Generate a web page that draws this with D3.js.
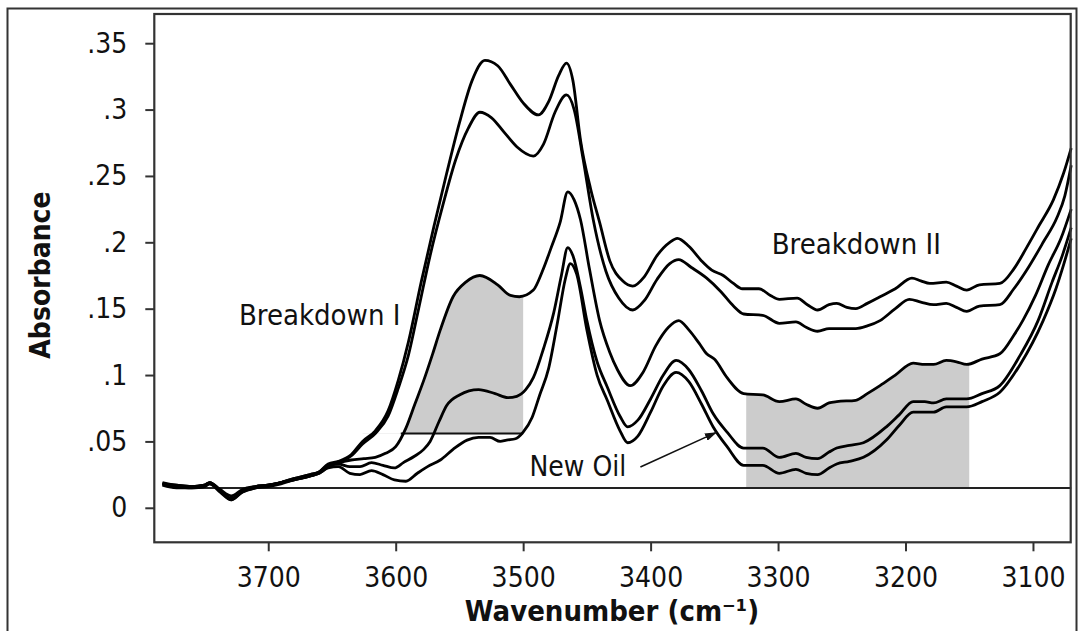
<!DOCTYPE html>
<html>
<head>
<meta charset="utf-8">
<script src="https://cdn.jsdelivr.net/npm/d3@7"></script>
<style>
  body { margin: 0; background: #fff; }
  text { font-family: "DejaVu Sans Condensed", "DejaVu Sans", sans-serif; font-stretch: condensed; fill: #111; }
</style>
</head>
<body>
<svg id="chart"></svg>
<script>
// medidas
var width = 1079;
var height = 631;

// eje x (numero de onda) y eje y (absorbancia)
var xTicks = [3700, 3600, 3500, 3400, 3300, 3200, 3100];
var yTicks = [0, 0.05, 0.1, 0.15, 0.2, 0.25, 0.3, 0.35];
var yLabels = ["0", ".05", ".1", ".15", ".2", ".25", ".3", ".35"];

// espectros [numero de onda, absorbancia]
var curveA = [[3783,0.019],[3772,0.017],[3760,0.016],[3750,0.017],[3746,0.019],[3738,0.014],[3729,0.009],[3720,0.014],[3710,0.016],[3700,0.017],[3690,0.019],[3680,0.022],[3667,0.025],[3660,0.027],[3653,0.033],[3645,0.035],
  [3635,0.040],[3626,0.050],[3616,0.058],[3606,0.073],[3598,0.096],[3590,0.125],[3580,0.170],[3570,0.212],[3560,0.252],[3550,0.290],[3540,0.322],[3530,0.337],[3520,0.333],[3510,0.319],[3500,0.305],[3488,0.296],[3480,0.306],[3472,0.326],[3466,0.335],[3461,0.322],[3455,0.277],[3447,0.240],[3440,0.215],[3432,0.186],[3422,0.171],[3414,0.167],[3405,0.174],[3395,0.190],[3385,0.200],[3379,0.203],[3370,0.197],[3360,0.186],[3352,0.179],[3343,0.175],[3335,0.169],[3328,0.165],[3315,0.165],[3306,0.160],[3299,0.157],[3285,0.158],[3277,0.153],[3269,0.149],[3260,0.153],[3254,0.154],[3246,0.151],[3239,0.150],[3230,0.154],[3220,0.159],[3208,0.165],[3195,0.173],[3188,0.171],[3181,0.169],[3168,0.170],[3160,0.167],[3152,0.164],[3142,0.168],[3126,0.169],[3115,0.180],[3105,0.196],[3095,0.213],[3084,0.232],[3076,0.252],[3070,0.271]];
var curveB = [[3783,0.018],[3772,0.016],[3760,0.016],[3750,0.017],[3746,0.019],[3738,0.013],[3729,0.007],[3720,0.013],[3710,0.016],[3700,0.017],[3690,0.019],[3680,0.022],[3667,0.025],[3660,0.027],[3653,0.032],[3645,0.034],
  [3635,0.039],[3626,0.048],[3616,0.056],[3606,0.069],[3598,0.090],[3590,0.115],[3582,0.150],[3573,0.190],[3563,0.228],[3553,0.262],[3543,0.286],[3534,0.298],[3525,0.294],[3515,0.283],[3505,0.272],[3492,0.265],[3484,0.274],[3475,0.298],[3466,0.311],[3460,0.300],[3453,0.263],[3445,0.217],[3435,0.178],[3425,0.158],[3414,0.149],[3405,0.156],[3395,0.172],[3385,0.184],[3378,0.187],[3368,0.181],[3356,0.173],[3345,0.163],[3335,0.152],[3327,0.146],[3312,0.145],[3299,0.139],[3286,0.140],[3278,0.136],[3269,0.133],[3260,0.135],[3254,0.135],[3239,0.135],[3230,0.137],[3220,0.141],[3208,0.150],[3197,0.157],[3188,0.155],[3178,0.153],[3168,0.154],[3160,0.151],[3152,0.148],[3142,0.152],[3126,0.153],[3115,0.165],[3103,0.182],[3092,0.200],[3081,0.219],[3075,0.235],[3070,0.258]];
var curveC = [[3783,0.018],[3772,0.016],[3760,0.015],[3750,0.016],[3746,0.018],[3738,0.013],[3729,0.007],[3720,0.012],[3710,0.015],[3700,0.017],[3690,0.019],[3680,0.021],[3667,0.024],[3660,0.027],[3653,0.032],[3645,0.034],
  [3635,0.036],[3625,0.037],[3616,0.038],[3608,0.041],[3600,0.046],[3592,0.060],[3585,0.078],[3578,0.096],[3571,0.116],[3565,0.134],[3555,0.159],[3545,0.170],[3534,0.175],[3520,0.168],[3510,0.160],[3503,0.159],[3492,0.164],[3485,0.178],[3478,0.196],[3471,0.215],[3465,0.238],[3460,0.232],[3455,0.217],[3448,0.180],[3440,0.141],[3432,0.117],[3426,0.104],[3416,0.092],[3406,0.102],[3396,0.122],[3386,0.136],[3378,0.141],[3370,0.134],[3362,0.124],[3356,0.116],[3350,0.112],[3340,0.098],[3327,0.086],[3312,0.085],[3299,0.080],[3286,0.082],[3278,0.078],[3269,0.075],[3260,0.079],[3254,0.080],[3239,0.081],[3230,0.086],[3220,0.092],[3208,0.100],[3194,0.109],[3185,0.108],[3178,0.108],[3168,0.111],[3160,0.110],[3152,0.108],[3140,0.112],[3126,0.116],[3115,0.130],[3108,0.141],[3098,0.160],[3088,0.183],[3078,0.203],[3070,0.225]];
var curveD = [[3783,0.018],[3772,0.017],[3760,0.016],[3750,0.017],[3746,0.019],[3738,0.013],[3729,0.006],[3720,0.013],[3710,0.016],[3700,0.017],[3690,0.019],[3680,0.021],[3667,0.024],[3660,0.026],[3653,0.031],[3645,0.033],
  [3636,0.031],[3628,0.031],[3619,0.034],[3610,0.032],[3601,0.030],[3594,0.034],[3585,0.039],[3578,0.044],[3573,0.050],[3566,0.065],[3560,0.077],[3550,0.085],[3535,0.089],[3522,0.086],[3512,0.083],[3505,0.084],[3498,0.089],[3492,0.098],[3484,0.120],[3476,0.147],[3470,0.175],[3465,0.196],[3461,0.190],[3455,0.166],[3450,0.141],[3442,0.110],[3434,0.091],[3424,0.069],[3418,0.061],[3410,0.066],[3400,0.082],[3390,0.100],[3380,0.111],[3370,0.104],[3360,0.088],[3351,0.071],[3340,0.057],[3327,0.045],[3312,0.045],[3299,0.038],[3286,0.041],[3278,0.038],[3269,0.037],[3260,0.042],[3254,0.045],[3244,0.047],[3233,0.049],[3215,0.061],[3205,0.070],[3194,0.080],[3185,0.080],[3178,0.079],[3168,0.082],[3152,0.082],[3140,0.086],[3126,0.092],[3110,0.115],[3096,0.141],[3085,0.170],[3077,0.190],[3070,0.211]];
var curveE = [[3783,0.017],[3772,0.015],[3760,0.015],[3750,0.016],[3746,0.018],[3738,0.012],[3729,0.006],[3720,0.012],[3710,0.015],[3700,0.016],[3690,0.018],[3680,0.021],[3667,0.024],[3660,0.026],[3653,0.030],[3645,0.031],
  [3636,0.026],[3628,0.025],[3619,0.028],[3610,0.025],[3601,0.021],[3592,0.020],[3583,0.026],[3575,0.031],[3565,0.036],[3555,0.044],[3544,0.051],[3535,0.053],[3526,0.053],[3518,0.050],[3513,0.051],[3506,0.052],[3500,0.057],[3493,0.068],[3487,0.085],[3480,0.105],[3473,0.140],[3467,0.172],[3463,0.184],[3458,0.176],[3450,0.134],[3442,0.100],[3434,0.081],[3424,0.058],[3418,0.049],[3410,0.054],[3400,0.072],[3390,0.092],[3380,0.102],[3370,0.095],[3360,0.078],[3351,0.061],[3340,0.046],[3327,0.032],[3312,0.032],[3299,0.026],[3286,0.029],[3278,0.026],[3269,0.025],[3260,0.030],[3254,0.033],[3244,0.035],[3233,0.038],[3215,0.051],[3205,0.062],[3194,0.072],[3185,0.072],[3178,0.072],[3168,0.076],[3152,0.076],[3140,0.080],[3126,0.087],[3110,0.108],[3092,0.141],[3082,0.165],[3076,0.183],[3070,0.203]];
var curves = [curveA, curveB, curveC, curveD, curveE];

// linea base y zonas sombreadas
var baseline = [[3775, 0.015], [3070, 0.015]];
var zone1 = [3596, 3500];   // Breakdown I
var zone1Level = 0.056;
var zone2 = [3325, 3150];   // Breakdown II

// escalas
var x = d3.scaleLinear().domain([3789.4, 3070.4]).range([154.3, 1070.7]);
var y = d3.scaleLinear().domain([-0.026, 0.372]).range([542.3, 14]);

var svg = d3.select("#chart")
  .attr("width", width)
  .attr("height", height);

// marco exterior
svg.append("rect")
  .attr("x", 7.5).attr("y", 8.5)
  .attr("width", 1069).attr("height", 640)
  .attr("fill", "none").attr("stroke", "#333").attr("stroke-width", 2);

var defs = svg.append("defs");
defs.append("clipPath").attr("id", "clip1").append("rect")
  .attr("x", x(zone1[0] + 30)).attr("y", y(0.372))
  .attr("width", x(zone1[1]) - x(zone1[0] + 30))
  .attr("height", y(zone1Level) - y(0.372));
defs.append("clipPath").attr("id", "clip2").append("rect")
  .attr("x", x(zone2[0])).attr("y", y(0.372))
  .attr("width", x(zone2[1]) - x(zone2[0]))
  .attr("height", y(0.015) - y(0.372));
defs.append("marker").attr("id", "arrow")
  .attr("viewBox", "0 0 12 8").attr("refX", 12).attr("refY", 4)
  .attr("markerWidth", 12).attr("markerHeight", 8)
  .attr("markerUnits", "userSpaceOnUse").attr("orient", "auto")
  .append("path").attr("d", "M0,0L12,4L0,8Z").attr("fill", "#111");

var line = d3.line()
  .x(function(d) { return x(d[0]); })
  .y(function(d) { return y(d[1]); })
  .curve(d3.curveMonotoneX);

// sombreado
svg.append("path")
  .datum(curveC)
  .attr("clip-path", "url(#clip1)")
  .attr("fill", "#cccccc")
  .attr("d", d3.area().x(function(d) { return x(d[0]); })
    .y0(y(zone1Level)).y1(function(d) { return y(d[1]); })
    .curve(d3.curveMonotoneX));
svg.append("path")
  .datum(curveC)
  .attr("clip-path", "url(#clip2)")
  .attr("fill", "#cccccc")
  .attr("d", d3.area().x(function(d) { return x(d[0]); })
    .y0(y(0.015)).y1(function(d) { return y(d[1]); })
    .curve(d3.curveMonotoneX));

// linea base
svg.append("path")
  .datum(baseline)
  .attr("d", line.curve(d3.curveLinear))
  .attr("fill", "none").attr("stroke", "#222").attr("stroke-width", 2);
line.curve(d3.curveMonotoneX);

// linea Breakdown I
svg.append("line")
  .attr("x1", x(zone1[0])).attr("x2", x(zone1[1]))
  .attr("y1", y(zone1Level)).attr("y2", y(zone1Level))
  .attr("stroke", "#111").attr("stroke-width", 2);

// espectros
svg.selectAll(".spec")
  .data(curves)
  .enter()
  .append("path")
  .attr("class", "spec")
  .attr("d", line)
  .attr("fill", "none")
  .attr("stroke", "#000")
  .attr("stroke-width", 2.8)
  .attr("stroke-linejoin", "round");

// ejes
var gx = svg.append("g")
  .attr("transform", "translate(0," + 542.3 + ")")
  .call(d3.axisBottom(x).tickValues(xTicks).tickFormat(d3.format("d")).tickSize(9).tickPadding(16));
var gy = svg.append("g")
  .attr("transform", "translate(" + 154.3 + ",0)")
  .call(d3.axisLeft(y).tickValues(yTicks).tickFormat(function(d, i) { return yLabels[i]; }).tickSize(9).tickPadding(18));
[gx, gy].forEach(function(g) {
  g.select(".domain").remove();
  g.selectAll(".tick line").attr("stroke", "#333").attr("stroke-width", 2);
  g.selectAll(".tick text").attr("font-size", 28).attr("fill", "#111")
    .style("font-family", "'DejaVu Sans Condensed', 'DejaVu Sans', sans-serif");
});

// marco del grafico
svg.append("rect")
  .attr("x", 154.3).attr("y", 14)
  .attr("width", 1070.7 - 154.3).attr("height", 542.3 - 14)
  .attr("fill", "none").attr("stroke", "#333").attr("stroke-width", 2.2);

// titulos
svg.append("text")
  .attr("transform", "translate(50,275) rotate(-90)")
  .attr("text-anchor", "middle")
  .attr("font-size", 28)
  .attr("font-weight", "bold")
  .text("Absorbance");
svg.append("text")
  .attr("x", 612).attr("y", 621)
  .attr("text-anchor", "middle")
  .attr("font-size", 29)
  .attr("font-weight", "bold")
  .text("Wavenumber (cm\u207B\u00B9)");

// anotaciones
svg.append("text").attr("x", x(3723)).attr("y", y(0.1377))
  .attr("font-size", 29).text("Breakdown I");
svg.append("text").attr("x", x(3305)).attr("y", y(0.1912))
  .attr("font-size", 29).text("Breakdown II");
svg.append("text").attr("x", x(3495)).attr("y", y(0.0239))
  .attr("font-size", 28).text("New Oil");
svg.append("line")
  .attr("x1", x(3408)).attr("y1", y(0.0307))
  .attr("x2", x(3348)).attr("y2", y(0.057))
  .attr("stroke", "#111").attr("stroke-width", 1.6)
  .attr("marker-end", "url(#arrow)");
</script>
</body>
</html>
